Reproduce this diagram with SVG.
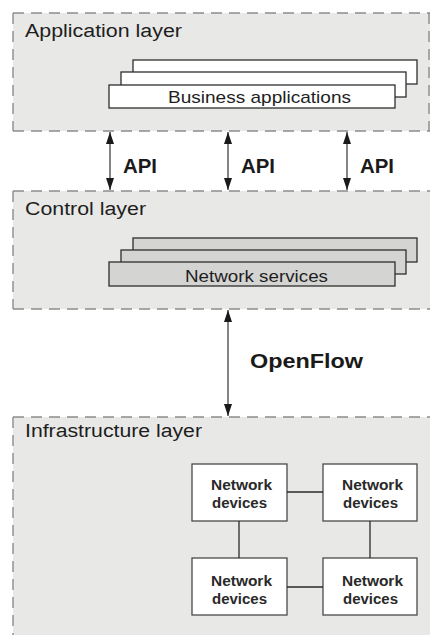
<svg xmlns="http://www.w3.org/2000/svg" width="430" height="635" viewBox="0 0 430 635">
  <defs>
    <marker id="arrowHead" viewBox="0 0 12 8" refX="12" refY="4" markerWidth="12" markerHeight="8" markerUnits="userSpaceOnUse" orient="auto-start-reverse">
      <path d="M0,0 L12,4 L0,8 z" fill="#1a1a1a"/>
    </marker>
  </defs>
  <style>
    .panel { fill: #e8e8e6; }
    .dash { stroke: #8c8c8c; stroke-width: 1.4; stroke-dasharray: 11 7; fill: none; }
    .title { font-family: "Liberation Sans", Arial, sans-serif; font-size: 18px; fill: #1e1e1e; }
    .stackW { fill: #ffffff; stroke: #2e2e2e; stroke-width: 1.3; }
    .stackG { fill: #d4d4d2; stroke: #2e2e2e; stroke-width: 1.3; }
    .stackText { font-family: "Liberation Sans", Arial, sans-serif; font-size: 17px; fill: #1e1e1e; }
    .api { font-family: "Liberation Sans", Arial, sans-serif; font-size: 20px; font-weight: bold; fill: #1a1a1a; }
    .link { stroke: #2a2a2a; stroke-width: 1.3; fill: none; }
    .arrow { stroke: #333; stroke-width: 1.2; fill: none; marker-start: url(#arrowHead); marker-end: url(#arrowHead); }
    .dev { fill: #ffffff; stroke: #4a4a4a; stroke-width: 1.3; }
    .devText { font-family: "Liberation Sans", Arial, sans-serif; font-size: 14.5px; font-weight: bold; fill: #2a2a2a; }
  </style>

  <rect width="430" height="635" fill="#ffffff"/>

  <!-- Application layer -->
  <g id="application-layer">
    <rect class="panel" x="13" y="13" width="417" height="118"/>
    <path class="dash" d="M13,13 H430 M13,131 H430 M13,13 V131 M429,13 V131"/>
    <text class="title" x="25" y="37" textLength="157" lengthAdjust="spacingAndGlyphs">Application layer</text>
    <rect class="stackW" x="133" y="60" width="284" height="24"/>
    <rect class="stackW" x="121" y="72" width="285" height="25"/>
    <rect class="stackW" x="109" y="85" width="286" height="23"/>
    <text class="stackText" x="168" y="103" textLength="183" lengthAdjust="spacingAndGlyphs">Business applications</text>
  </g>

  <!-- Control layer -->
  <g id="control-layer">
    <rect class="panel" x="13" y="191" width="417" height="118"/>
    <path class="dash" d="M13,191 H430 M13,309 H430 M13,191 V309"/>
    <text class="title" x="25" y="215" textLength="121" lengthAdjust="spacingAndGlyphs">Control layer</text>
    <rect class="stackG" x="133" y="238" width="284" height="24"/>
    <rect class="stackG" x="121" y="250" width="285" height="24"/>
    <rect class="stackG" x="109" y="262" width="286" height="24"/>
    <text class="stackText" x="185" y="282" textLength="143" lengthAdjust="spacingAndGlyphs">Network services</text>
  </g>

  <!-- Infrastructure layer -->
  <g id="infrastructure-layer">
    <rect class="panel" x="13" y="417" width="417" height="218"/>
    <path class="dash" d="M13,417 H430 M13,417 V635"/>
    <text class="title" x="25" y="437" textLength="177" lengthAdjust="spacingAndGlyphs">Infrastructure layer</text>
  </g>

  <!-- Network devices -->
  <g id="device-tl">
    <rect class="dev" x="192" y="464" width="95" height="57"/>
    <text class="devText" x="211" y="490" textLength="61" lengthAdjust="spacingAndGlyphs">Network</text>
    <text class="devText" x="212" y="508" textLength="55" lengthAdjust="spacingAndGlyphs">devices</text>
  </g>
  <g id="device-tr">
    <rect class="dev" x="323" y="464" width="94" height="57"/>
    <text class="devText" x="342" y="490" textLength="61" lengthAdjust="spacingAndGlyphs">Network</text>
    <text class="devText" x="343" y="508" textLength="55" lengthAdjust="spacingAndGlyphs">devices</text>
  </g>
  <g id="device-bl">
    <rect class="dev" x="192" y="558" width="95" height="57"/>
    <text class="devText" x="211" y="586" textLength="61" lengthAdjust="spacingAndGlyphs">Network</text>
    <text class="devText" x="212" y="604" textLength="55" lengthAdjust="spacingAndGlyphs">devices</text>
  </g>
  <g id="device-br">
    <rect class="dev" x="323" y="558" width="94" height="57"/>
    <text class="devText" x="342" y="586" textLength="61" lengthAdjust="spacingAndGlyphs">Network</text>
    <text class="devText" x="343" y="604" textLength="55" lengthAdjust="spacingAndGlyphs">devices</text>
  </g>

  <!-- Connectors -->
  <g id="connectors">
    <line class="arrow" x1="110" y1="132" x2="110" y2="190"/>
    <line class="arrow" x1="228" y1="132" x2="228" y2="190"/>
    <line class="arrow" x1="347" y1="132" x2="347" y2="190"/>
    <line class="arrow" x1="228" y1="310" x2="228" y2="416"/>
    <line class="link" x1="287" y1="492" x2="323" y2="492"/>
    <line class="link" x1="287" y1="587" x2="323" y2="587"/>
    <line class="link" x1="239" y1="521" x2="239" y2="558"/>
    <line class="link" x1="370" y1="521" x2="370" y2="558"/>
  </g>

  <!-- Connector labels -->
  <g id="labels">
    <text class="api" x="123" y="173" textLength="34" lengthAdjust="spacingAndGlyphs">API</text>
    <text class="api" x="241" y="173" textLength="34" lengthAdjust="spacingAndGlyphs">API</text>
    <text class="api" x="360" y="173" textLength="34" lengthAdjust="spacingAndGlyphs">API</text>
    <text class="api" x="250" y="368" font-size="21" textLength="113" lengthAdjust="spacingAndGlyphs">OpenFlow</text>
  </g>
</svg>
